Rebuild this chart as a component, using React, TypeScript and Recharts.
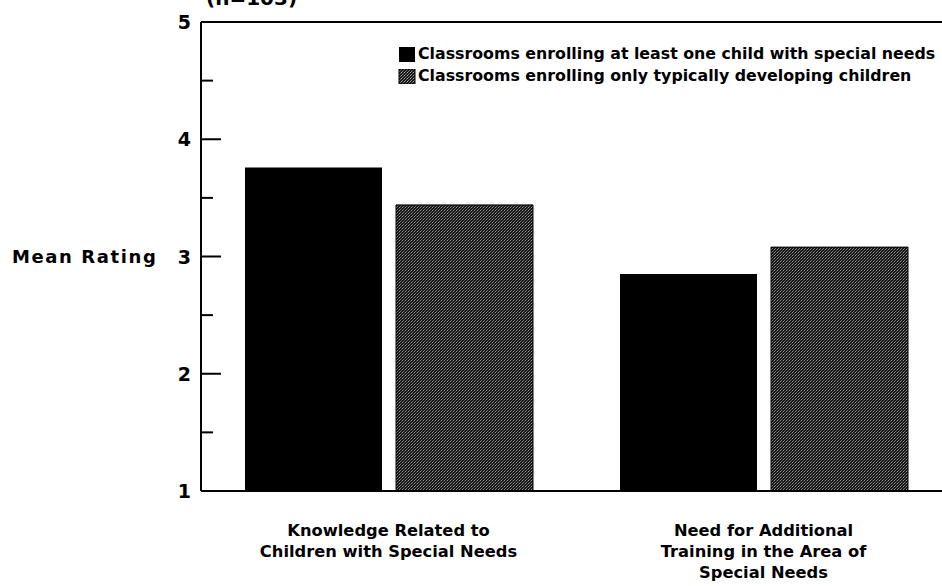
import { BarChart, Bar, XAxis, YAxis, Label, ReferenceLine } from "recharts";

const categories = [
  "Knowledge Related to\nChildren with Special Needs",
  "Need for Additional\nTraining in the Area of\nSpecial Needs",
];
const withSpecialNeeds = [3.76, 2.85];
const typicalOnly = [3.44, 3.08];
const yTicks = [1, 1.5, 2, 2.5, 3, 3.5, 4, 4.5, 5];
const seriesNames = [
  "Classrooms enrolling at least one child with special needs",
  "Classrooms enrolling only typically developing children",
];

const data = categories.map((c, i) => ({
  name: c,
  special: withSpecialNeeds[i],
  typical: typicalOnly[i],
}));

const FONT = "'DejaVu Sans', sans-serif";

const YTick = (props: any) => {
  const { x, y, payload } = props;
  const major = Number.isInteger(payload.value);
  const ax = x + 10;
  return (
    <g>
      <line x1={ax} y1={y} x2={ax + (major ? 20 : 12)} y2={y} stroke="#000" strokeWidth={2} />
      {major && (
        <text x={x} y={y} dy={7} textAnchor="end" fontFamily={FONT} fontWeight="bold" fontSize={19} fill="#000">
          {payload.value}
        </text>
      )}
    </g>
  );
};

const XTick = (props: any) => {
  const { x, y, payload } = props;
  const lines = String(payload.value).split("\n");
  return (
    <text x={x} y={y} textAnchor="middle" fontFamily={FONT} fontWeight="bold" fontSize={16.3} fill="#000">
      {lines.map((l, i) => (
        <tspan key={i} x={x} dy={i === 0 ? 6 : 21}>
          {l}
        </tspan>
      ))}
    </text>
  );
};

const LegendBox = () => (
  <div
    style={{
      position: "absolute",
      left: 398,
      top: 43,
      fontFamily: FONT,
      fontWeight: "bold",
      fontSize: 15.8,
      color: "#000",
      lineHeight: "22px",
      whiteSpace: "nowrap",
    }}
  >
    {seriesNames.map((n, i) => (
      <div key={n} style={{ display: "flex", alignItems: "center" }}>
        <svg width={19} height={15} style={{ marginRight: 1 }}>
          <defs>
            <pattern id={"ldots" + i} width="3" height="3" patternUnits="userSpaceOnUse">
              <rect width="3" height="3" fill="#161616" />
              <rect x="0" y="0" width="1" height="1" fill="#b0b0b0" />
              <rect x="2" y="1" width="1" height="1" fill="#6a6a6a" />
              <rect x="1" y="2" width="1" height="1" fill="#888" />
            </pattern>
          </defs>
          <rect x={1} y={0} width={16} height={15} fill={i === 0 ? "#000" : "url(#ldots1)"} stroke={i === 0 ? "none" : "#000"} />
        </svg>
        <span>{n}</span>
      </div>
    ))}
  </div>
);

export default function App() {
  return (
    <div style={{ position: "fixed", left: 0, top: 0, width: 942, height: 586, overflow: "hidden", background: "#fff" }}>
      <div
        style={{
          position: "absolute",
          left: 206,
          top: -12,
          fontFamily: FONT,
          fontWeight: "bold",
          fontSize: 20,
          lineHeight: "20px",
        }}
      >
        (n=103)
      </div>
      <BarChart
        width={960}
        height={586}
        data={data}
        margin={{ top: 22, right: 9, bottom: 0, left: 0 }}
        barSize={137}
        barGap={14}
      >
        <defs>
          <pattern id="dots" width="3" height="3" patternUnits="userSpaceOnUse">
            <rect width="3" height="3" fill="#161616" />
            <rect x="0" y="0" width="1" height="1" fill="#9a9a9a" />
            <rect x="2" y="1" width="1" height="1" fill="#5a5a5a" />
            <rect x="1" y="2" width="1" height="1" fill="#777" />
          </pattern>
        </defs>
        <XAxis
          dataKey="name"
          height={95}
          axisLine={{ stroke: "#000", strokeWidth: 2 }}
          tickLine={false}
          tickSize={0}
          tickMargin={39}
          tick={<XTick />}
          interval={0}
        />
        <YAxis
          width={201}
          domain={[1, 5]}
          ticks={yTicks}
          interval={0}
          axisLine={{ stroke: "#000", strokeWidth: 2 }}
          tickLine={false}
          tickSize={0}
          tickMargin={10}
          tick={<YTick />}
        >
          <Label
            value="Mean Rating"
            position="insideLeft"
            offset={12}
            fontFamily={FONT}
            fontWeight="bold"
            fontSize={18}
            fill="#000"
            letterSpacing={1.6}
          />
        </YAxis>
        <ReferenceLine y={5} stroke="#000" strokeWidth={2} />
        <Bar dataKey="special" name={seriesNames[0]} fill="#000" isAnimationActive={false} />
        <Bar dataKey="typical" name={seriesNames[1]} fill="url(#dots)" stroke="#000" strokeWidth={1} isAnimationActive={false} />
      </BarChart>
      <LegendBox />
    </div>
  );
}
